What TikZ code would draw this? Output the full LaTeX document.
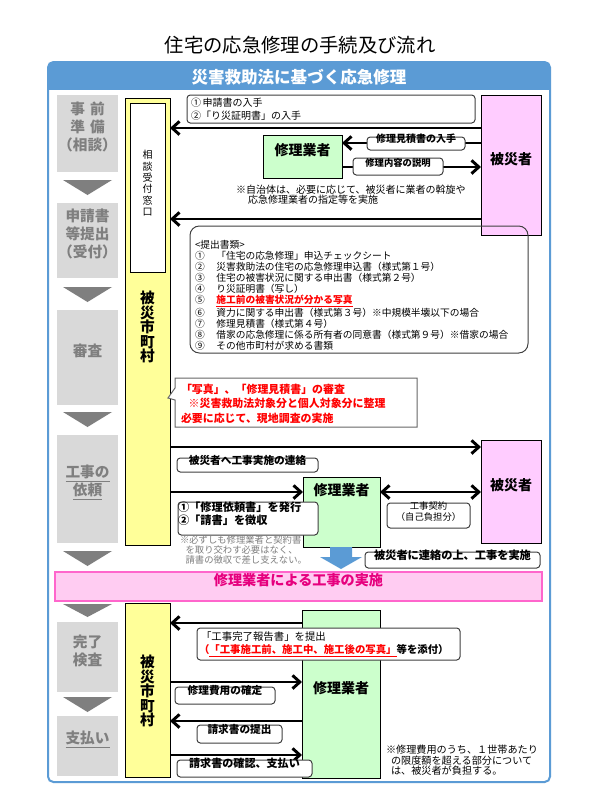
\documentclass[tikz,border=0pt]{standalone}
\usepackage{fontspec}
\setmainfont{Noto Sans CJK JP}
\usetikzlibrary{arrows.meta,fit}
\definecolor{hdr}{HTML}{5B9BD5}
\definecolor{stg}{HTML}{D9D9D9}
\definecolor{stgtxt}{HTML}{7F7F7F}
\definecolor{ylw}{HTML}{FFFF99}
\definecolor{pnk}{HTML}{FFCCFF}
\definecolor{grn}{HTML}{CCFFCC}
\definecolor{band}{HTML}{FFCCF2}
\definecolor{bandline}{HTML}{FF66CC}
\definecolor{bandtxt}{HTML}{E6007E}
\definecolor{redt}{HTML}{FF0000}
\definecolor{lbl}{HTML}{404040}
\definecolor{notegray}{HTML}{7F7F7F}
\newcommand{\fz}[2]{\fontsize{#1}{#2}\selectfont}
\begin{document}
\begin{tikzpicture}[x=0.75pt,y=-0.75pt,
  every node/.style={inner sep=0pt,outer sep=0pt},
  bx/.style={fit={#1},inner sep=0pt,outer sep=0pt},
  stage/.style={fill=stg,text=stgtxt,font=\fz{11}{13.5}\bfseries,align=center},
  ycol/.style={fill=ylw,draw=black,line width=0.6pt},
  pbox/.style={fill=pnk,draw=black,line width=0.75pt,font=\fz{10.5}{12}\bfseries},
  gbox/.style={fill=grn,draw=black,line width=0.75pt,font=\fz{10.5}{12}\bfseries},
  lab/.style={fill=white,draw=lbl,line width=0.75pt,rounded corners=2.5pt},
  arr/.style={line width=2.2pt,-{Straight Barb[length=5.5pt,width=10pt]}},
  darr/.style={line width=2.2pt,{Straight Barb[length=5.5pt,width=10pt]}-{Straight Barb[length=5.5pt,width=10pt]}},
  tri/.style={fill=stgtxt},
]
\useasboundingbox (0,0) rectangle (600,800);
\fill[white] (0,0) rectangle (600,800);

% title
\node[font=\fz{14.5}{16}] (title) at (300,45) {住宅の応急修理の手続及び流れ};

% header band and frame
\fill[hdr,rounded corners=4pt] (48,62) rectangle (550,97);
\fill[white] (49,90) rectangle (549,98);
\node[font=\fz{12.4}{14}\bfseries,text=white] (hdrtxt) at (299,77) {災害救助法に基づく応急修理};
\draw[hdr,line width=1.5pt,rounded corners=4pt] (48,62) rectangle (550,782);

% stages
\node[stage,bx={(57,95) (118,172)}] (s1) {事\hspace{0.35em}前\\準\hspace{0.35em}備\\（相談）};
\node[stage,bx={(57,203) (118,278)}] (s2) {申請書\\等提出\\（受付）};
\node[stage,bx={(57,310) (118,405)}] (s3) {審査};
\node[stage,bx={(57,435) (118,543)}] (s4) {\underline{工事の}\\\underline{依頼}};
\node[stage,bx={(57,622) (118,692)}] (s5) {完了\\検査};
\node[stage,bx={(57,716) (118,776)}] (s6) {\underline{支払い}};
\foreach \a/\b in {180/195,287/302,412/427,551/566,604/617,697/712}
  \fill[tri] (63,\a) -- (112,\a) -- (87.5,\b) -- cycle;

% yellow municipality columns
\node[ycol,bx={(125,98) (170,545)}] (y1) {};
\node[fill=white,draw=black,line width=0.6pt,bx={(130,103) (165,272)},font=\fz{7.5}{8.6},align=center] (win) {相\\談\\受\\付\\窓\\口};
\node[font=\fz{11}{10.9}\bfseries,align=center] (y1t) at (147.5,327) {被\\災\\市\\町\\村};
\node[ycol,bx={(125,603) (170,777)}] (y2) {};
\node[font=\fz{11}{10.9}\bfseries,align=center] (y2t) at (147.5,691) {被\\災\\市\\町\\村};

% victims and contractors
\node[pbox,bx={(481,95) (541,235)}] (p1) {被災者};
\node[pbox,bx={(481,440) (541,543)}] (p2) {被災者};
\node[gbox,bx={(263,135) (342,178)}] (g1) {修理業者};
\node[gbox,bx={(303,477) (380,547)}] (g2) {};
\node[font=\fz{10.5}{12}\bfseries] (g2t) at (341.5,490) {修理業者};
\node[gbox,bx={(302,610) (380,778)}] (g3) {修理業者};

% arrows
\draw[arr] (p1.west |- 0,128) -- (y1.east |- 0,128);
\draw[arr] (p1.west |- 0,143) -- (g1.east |- 0,143);
\draw[arr] (g1.east |- 0,167) -- (p1.west |- 0,167);
\draw[arr] (p1.west |- 0,219) -- (y1.east |- 0,219);
\draw[arr] (y1.east |- 0,447) -- (p2.west |- 0,447);
\draw[arr] (y1.east |- 0,492) -- (g2.west |- 0,492);
\draw[darr] (g2.east |- 0,492) -- (p2.west |- 0,492);
\draw[arr] (g3.west |- 0,623) -- (y2.east |- 0,623);
\draw[arr] (y2.east |- 0,682) -- (g3.west |- 0,682);
\draw[arr] (g3.west |- 0,721) -- (y2.east |- 0,721);
\draw[arr] (y2.east |- 0,755) -- (g3.west |- 0,755);

% labels, stage 1
\node[lab,bx={(187,95) (475,123)}] (l1) {};
\node[anchor=west,align=left,font=\fz{7.5}{9.75}] (l1t) at (191,109.5) {①\,申請書の入手\\②「り災証明書」の入手};
\node[lab,bx={(367,137) (465,150)},font=\fz{7.5}{8}\bfseries] (l2) {修理見積書の入手};
\node[lab,bx={(353,158) (443,175)},font=\fz{7}{8}\bfseries] (l3) {修理内容の説明};
\node[anchor=north west,align=left,font=\fz{7.5}{7.6}] (n1) at (236,185) {※自治体は、必要に応じて、被災者に業者の斡旋や\\\hspace{1.2em}応急修理業者の指定等を実施};

% documents
\node[draw=lbl,line width=0.75pt,rounded corners=7pt,bx={(190,226) (528,353)}] (docbox) {};
\node[anchor=north west,align=left,font=\fz{7.3}{8.25}] (docs) at (195,240) {%
<提出書類>\\
\makebox[16pt][l]{①}「住宅の応急修理」申込チェックシート\\
\makebox[16pt][l]{②}災害救助法の住宅の応急修理申込書（様式第１号）\\
\makebox[16pt][l]{③}住宅の被害状況に関する申出書（様式第２号）\\
\makebox[16pt][l]{④}り災証明書（写し）\\
\makebox[16pt][l]{⑤}{\color{redt}\bfseries\underline{施工前の被害状況が分かる写真}}\\
\makebox[16pt][l]{⑥}資力に関する申出書（様式第３号）※中規模半壊以下の場合\\
\makebox[16pt][l]{⑦}修理見積書（様式第４号）\\
\makebox[16pt][l]{⑧}借家の応急修理に係る所有者の同意書（様式第９号）※借家の場合\\
\makebox[16pt][l]{⑨}その他市町村が求める書類};

% review callout
\draw[lbl!80,fill=white,line width=0.75pt] (175,378) -- (417,378) -- (417,427) -- (175,427) -- (175,400) -- (168,398) -- (175,388) -- cycle;
\node[anchor=west,align=left,font=\fz{8.2}{10.9}\bfseries,text=redt] (rev) at (181,403.5) {「写真」、「修理見積書」の審査\\\hspace{0.7em}※災害救助法対象分と個人対象分に整理\\必要に応じて、現地調査の実施};

% stage 4 labels
\node[lab,bx={(177,458) (318,472)},font=\fz{8}{9}\bfseries] (l4) {被災者へ工事実施の連絡};
\node[lab,bx={(178,502) (318,535)},font=\fz{8.4}{9.8}\bfseries,align=left] (l5) {①「修理依頼書」を発行\\②「請書」を徴収};
\node[lab,bx={(387,503) (470,528)},font=\fz{7}{7.6},align=center] (l6) {工事契約\\（自己負担分）};
\node[anchor=north west,align=left,font=\fz{7}{7.5},text=notegray] (n2) at (180,535.5) {※必ずしも修理業者と契約書\\\hspace{0.6em}を取り交わす必要はなく、\\\hspace{0.6em}請書の徴収で差し支えない。};
\fill[hdr] (g2.south -| 330,0) -- (g2.south -| 352,0) -- (352,557) -- (362,557) -- (341,569) -- (320,557) -- (330,557) -- cycle;
\node[lab,bx={(365,552) (540,568)},font=\fz{8.4}{9}\bfseries] (l7) {被災者に連絡の上、工事を実施};

% construction band
\node[fill=band,draw=bandline,line width=1.5pt,bx={(55,572) (542,601)},font=\fz{10.6}{12}\bfseries,text=bandtxt] (bandn) {修理業者による工事の実施};

% stage 5-6 labels
\node[lab,bx={(197,628) (460,660)}] (l8) {};
\node[anchor=west,align=left,font=\fz{7.8}{9.75}] (l8t) at (199,644.5) {\hspace{0.2em}「工事完了報告書」を提出\\\bfseries{\color{redt}（\underline{「工事施工前、施工中、施工後の写真」}}等を添付）};
\node[lab,bx={(175,687) (275,704)},font=\fz{8}{9}\bfseries] (l9) {修理費用の確定};
\node[lab,bx={(197,725) (282,743)},font=\fz{8}{9}\bfseries] (l10) {請求書の提出};
\node[lab,bx={(177,760) (312,777)},font=\fz{8.3}{9}\bfseries] (l11) {請求書の確認、支払い};
\node[anchor=north west,align=left,font=\fz{7.6}{8}] (n3) at (386,745) {※修理費用のうち、１世帯あたり\\\hspace{0.5em}の限度額を超える部分について\\\hspace{0.5em}は、被災者が負担する。};
\end{tikzpicture}
\end{document}
